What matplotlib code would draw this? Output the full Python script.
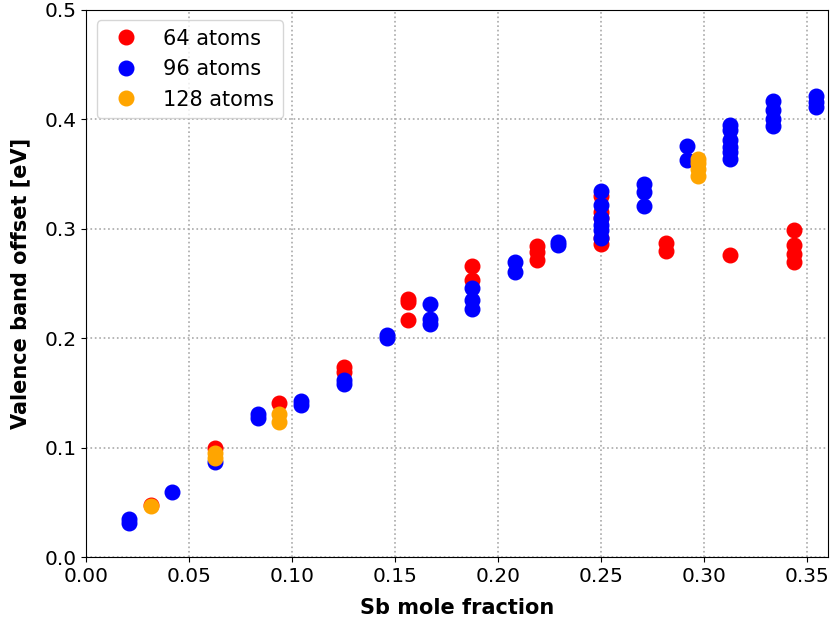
import matplotlib
matplotlib.use("Agg")
import matplotlib.pyplot as plt

# Sb mole fraction / valence band offset [eV], one pair of lists per cell size
x_64 = [1/32, 2/32, 3/32, 4/32, 4/32,
        5/32, 5/32, 5/32, 6/32, 6/32,
        7/32, 7/32, 7/32,
        8/32, 8/32, 8/32, 8/32, 8/32,
        9/32, 9/32, 10/32,
        11/32, 11/32, 11/32, 11/32]
y_64 = [0.048, 0.100, 0.141, 0.174, 0.169,
        0.236, 0.233, 0.217, 0.266, 0.253,
        0.284, 0.279, 0.272,
        0.330, 0.315, 0.310, 0.292, 0.286,
        0.287, 0.280, 0.276,
        0.299, 0.285, 0.277, 0.270]

x_96 = [1/48, 1/48, 2/48, 3/48, 4/48, 4/48,
        5/48, 5/48, 6/48, 6/48, 7/48, 7/48,
        8/48, 8/48, 8/48, 9/48, 9/48, 9/48,
        10/48, 10/48, 11/48, 11/48,
        12/48, 12/48, 12/48, 12/48, 12/48, 12/48,
        13/48, 13/48, 13/48, 14/48, 14/48,
        15/48, 15/48, 15/48, 15/48, 15/48, 15/48,
        16/48, 16/48, 16/48, 16/48,
        17/48, 17/48, 17/48]
y_96 = [0.031, 0.035, 0.060, 0.087, 0.131, 0.127,
        0.143, 0.139, 0.162, 0.158, 0.203, 0.200,
        0.231, 0.218, 0.213, 0.246, 0.235, 0.227,
        0.270, 0.261, 0.288, 0.285,
        0.335, 0.322, 0.310, 0.304, 0.299, 0.292,
        0.341, 0.334, 0.321, 0.376, 0.363,
        0.395, 0.390, 0.381, 0.375, 0.370, 0.364,
        0.417, 0.409, 0.400, 0.394,
        0.421, 0.416, 0.411]

x_128 = [2/64, 4/64, 4/64, 6/64, 6/64,
         19/64, 19/64, 19/64, 19/64]
y_128 = [0.047, 0.095, 0.091, 0.131, 0.124,
         0.364, 0.360, 0.355, 0.348]

labels = ["64 atoms", "96 atoms", "128 atoms"]
colors = ["red", "blue", "orange"]

fig = plt.figure(figsize=(8.3, 6.24), dpi=100)
ax = fig.add_axes([0.104, 0.107, 0.894, 0.877])

for xs, ys, lab, col in zip([x_64, x_96, x_128], [y_64, y_96, y_128], labels, colors):
    ax.plot(xs, ys, "o", color=col, ms=10.5, label=lab, zorder=3)

ax.set_xlim(0, 0.3603)
ax.set_ylim(0, 0.5)
ax.set_xticks([0.0, 0.05, 0.10, 0.15, 0.20, 0.25, 0.30, 0.35])
ax.set_yticks([0.0, 0.1, 0.2, 0.3, 0.4, 0.5])
ax.tick_params(labelsize=14.5)
ax.grid(True, linestyle=":", color="darkgray", linewidth=1.2)
ax.set_axisbelow(True)

ax.set_xlabel("Sb mole fraction", fontsize=15, fontweight="bold", labelpad=9)
ax.set_ylabel("Valence band offset [eV]", fontsize=15, fontweight="bold", labelpad=10)
ax.legend(loc="upper left", fontsize=15)

fig.savefig("out.png", dpi=100)
